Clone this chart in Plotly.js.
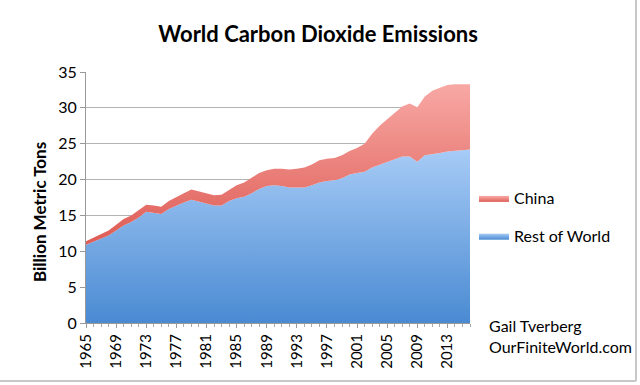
<!DOCTYPE html>
<html>
<head>
<meta charset="utf-8">
<script src="https://cdn.plot.ly/plotly-3.0.1.min.js"></script>
<style>html,body{margin:0;padding:0;background:#fff;}#chart{width:640px;height:385px;}</style>
</head>
<body>
<div id="chart"></div>
<script>
const years = [];
for (let y = 1965; y <= 2016; y++) years.push(y);

const restOfWorld = [10.9,11.3,11.7,12.2,12.9,13.6,14.1,14.7,15.5,15.4,
  15.2,15.9,16.4,16.8,17.2,16.9,16.6,16.4,16.4,17.0,
  17.4,17.6,18.1,18.7,19.1,19.2,19.1,18.9,18.9,18.9,
  19.2,19.6,19.8,19.9,20.2,20.7,20.9,21.1,21.7,22.1,
  22.4,22.8,23.2,23.2,22.5,23.4,23.5,23.7,23.9,24.0,
  24.1,24.2];

const china = [0.5,0.6,0.6,0.7,0.8,0.9,0.9,1.0,1.0,1.0,
  1.0,1.1,1.2,1.3,1.4,1.4,1.4,1.4,1.5,1.6,
  1.8,2.0,2.1,2.2,2.2,2.3,2.4,2.5,2.6,2.8,
  2.9,3.1,3.1,3.1,3.2,3.3,3.5,3.9,4.7,5.4,
  6.0,6.5,7.0,7.4,7.6,8.2,8.9,9.1,9.3,9.3,
  9.2,9.1];

const tickYears = [1965,1969,1973,1977,1981,1985,1989,1993,1997,2001,2005,2009,2013];
const seriesNames = ['China', 'Rest of World'];

const traces = [
  {
    x: years, y: restOfWorld, name: seriesNames[1], type: 'scatter', mode: 'lines',
    stackgroup: 'one', legendgroup: 'row', legendrank: 2, line: {width: 0, color: '#8ab8ee'},
    fillcolor: '#7fb0ea',
    fillgradient: {type: 'vertical', start: 0, stop: 24, colorscale: [[0, '#4a8ad2'], [1, '#a6cbf6']]}
  },
  {
    x: years, y: china, name: seriesNames[0], type: 'scatter', mode: 'lines',
    stackgroup: 'one', legendgroup: 'cn', legendrank: 1, line: {width: 0, color: '#ee7f78'},
    fillcolor: '#ee8079',
    fillgradient: {type: 'vertical', start: 12, stop: 34, colorscale: [[0, '#df5f58'], [1, '#f9aba7']]}
  }
];

const W = 384, H = 251;
const FONT = 'Lato, "Open Sans", sans-serif';
const layout = {
  width: 640, height: 385,
  margin: {l: 86, r: 170, t: 72, b: 62},
  paper_bgcolor: '#ffffff', plot_bgcolor: '#ffffff',
  font: {family: FONT, color: '#000'},
  title: {text: '<b>World Carbon Dioxide Emissions</b>', font: {size: 22, family: FONT, color: '#000'}, x: 0.497, xanchor: 'center', y: 0.912, yanchor: 'middle'},
  showlegend: true,
  legend: {x: (474 - 86) / W, y: (323 - 181) / H, xanchor: 'left', yanchor: 'top', font: {size: 16},
           traceorder: 'grouped', tracegroupgap: 14, itemwidth: 30, bgcolor: 'rgba(0,0,0,0)'},
  xaxis: {
    range: [1965, 2016], tickmode: 'array', tickvals: tickYears, ticktext: tickYears.map(String),
    tickangle: -90, tickfont: {size: 15}, ticks: 'outside', ticklen: 4, tickcolor: '#999',
    minor: {dtick: 1, ticks: 'outside', ticklen: 3, tickcolor: '#aaa', showgrid: false},
    showline: true, linecolor: '#999', linewidth: 1, showgrid: false, zeroline: false, fixedrange: true
  },
  yaxis: {
    range: [0, 35], dtick: 5, tickfont: {size: 16}, ticks: 'outside', ticklen: 5, tickcolor: '#999',
    showline: true, linecolor: '#999', linewidth: 1, gridcolor: '#b3b3b3', gridwidth: 1, zeroline: false,
    fixedrange: true
  },
  annotations: [
    {xref: 'paper', yref: 'paper', x: (39 - 86) / W, y: (323 - 212) / H, xanchor: 'center', yanchor: 'middle',
     text: '<b>Billion Metric Tons</b>', textangle: -90, showarrow: false, font: {size: 17}},
    {xref: 'paper', yref: 'paper', x: (487 - 86) / W, y: (323 - 325) / H, xanchor: 'left', yanchor: 'middle',
     text: 'Gail Tverberg', showarrow: false, font: {size: 16}},
    {xref: 'paper', yref: 'paper', x: (487 - 86) / W, y: (323 - 346) / H, xanchor: 'left', yanchor: 'middle',
     text: 'OurFiniteWorld.com', showarrow: false, font: {size: 16}}
  ],
  shapes: [
    {type: 'line', xref: 'paper', yref: 'paper', x0: (636 - 86) / W, x1: (636 - 86) / W, y0: (323 - 0) / H, y1: (323 - 381) / H, line: {color: '#c8c8c8', width: 2}},
    {type: 'line', xref: 'paper', yref: 'paper', x0: (0 - 86) / W, x1: (636 - 86) / W, y0: (323 - 381) / H, y1: (323 - 381) / H, line: {color: '#c8c8c8', width: 2}}
  ]
};

Plotly.newPlot('chart', traces, layout, {displayModeBar: false, staticPlot: true});
</script>
</body>
</html>
